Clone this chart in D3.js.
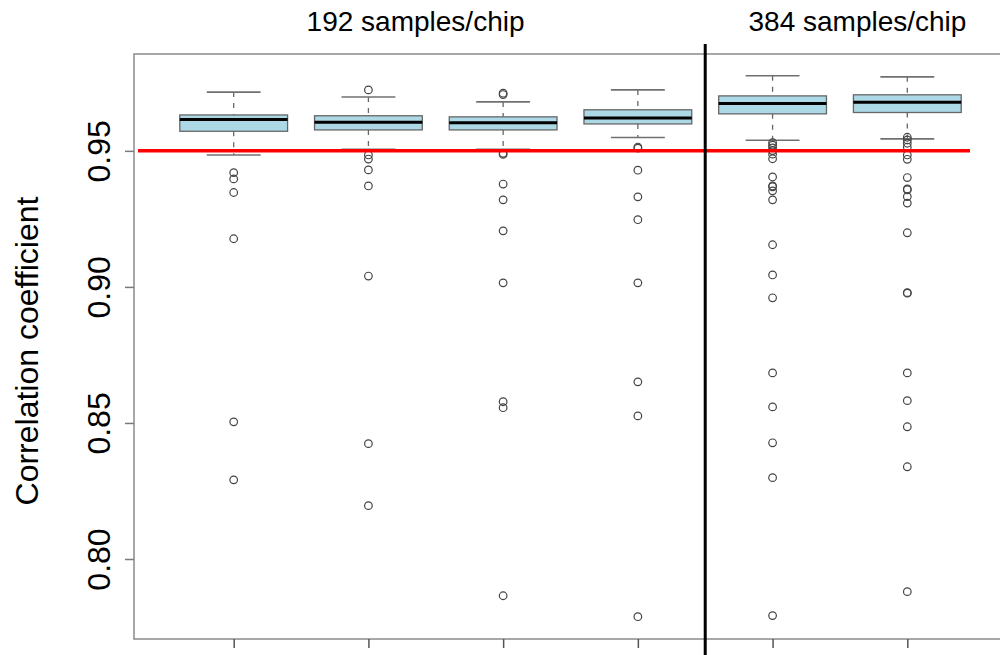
<!DOCTYPE html>
<html>
<head>
<meta charset="utf-8">
<script src="https://cdn.jsdelivr.net/npm/d3@7"></script>
<style>
  body { margin: 0; background: #fff; }
  text { font-family: "Liberation Sans", Arial, sans-serif; }
</style>
</head>
<body>
<div id="chart"></div>
<script>
// box statistics, one entry per group
var groups = [1, 2, 3, 4, 5, 6];
var whiskerHigh = [0.9716, 0.9698, 0.9680, 0.9724, 0.9776, 0.9772];
var q3 = [0.9632, 0.9629, 0.9625, 0.9651, 0.9702, 0.9706];
var medians = [0.9615, 0.9605, 0.9603, 0.9621, 0.9674, 0.9679];
var q1 = [0.9572, 0.9577, 0.9577, 0.9599, 0.9636, 0.9641];
var whiskerLow = [0.9485, 0.9506, 0.9506, 0.9549, 0.9539, 0.9544];
var outliers = [
    [0.9420, 0.9397, 0.9347, 0.9177, 0.8504, 0.8291],
    [0.9724, 0.9485, 0.9470, 0.9430, 0.9371, 0.9040, 0.8424, 0.8196],
    [0.9712, 0.9707, 0.9491, 0.9487, 0.9378, 0.9320, 0.9206, 0.9015, 0.8578, 0.8556, 0.7865],
    [0.9514, 0.9510, 0.9429, 0.9331, 0.9247, 0.9015, 0.8651, 0.8526, 0.7788],
    [0.9530, 0.9521, 0.9511, 0.9501, 0.9488, 0.9471, 0.9404, 0.9371, 0.9368, 0.9353, 0.9320,
     0.9155, 0.9044, 0.8960, 0.8684, 0.8559, 0.8427, 0.8299, 0.7792],
    [0.9550, 0.9540, 0.9528, 0.9514, 0.9485, 0.9469, 0.9402, 0.9360, 0.9357, 0.9332, 0.9308,
     0.9199, 0.8979, 0.8977, 0.8684, 0.8582, 0.8486, 0.8339, 0.7880]
];
var yTicks = [0.80, 0.85, 0.90, 0.95];
var threshold = 0.95;
var sections = [
    { label: '192 samples/chip', pos: 2.35 },
    { label: '384 samples/chip', pos: 5.63 }
];
var dividerPos = 4.5;

var width = 1000;
var height = 655;

var svg = d3.select('#chart').append('svg')
    .attr('width', width)
    .attr('height', height);

var x = d3.scaleLinear().domain([0.26, 6.74]).range([134, 1007]);
var y = d3.scaleLinear().domain([0.7706, 0.9856]).range([639, 54]);

var boxW = (x(1.4) - x(0.6));
var capW = boxW / 2;

// plot frame
svg.append('rect')
    .attr('x', x(0.26)).attr('y', y(0.9856))
    .attr('width', x(6.74) - x(0.26))
    .attr('height', y(0.7706) - y(0.9856))
    .style('fill', 'none')
    .style('stroke', '#8a8a8a')
    .attr('stroke-width', 1.5);

// y axis
var yAxis = d3.axisLeft(y)
    .tickValues(yTicks)
    .tickSize(9)
    .tickFormat(d3.format('.2f'));
var yg = svg.append('g')
    .attr('transform', 'translate(' + x(0.26) + ',0)')
    .call(yAxis);
yg.select('.domain').remove();
yg.selectAll('line').style('stroke', '#7a7a7a').attr('stroke-width', 1.5);
// labels sit rotated, baseline at x = 110 in page coords
yg.selectAll('text')
    .attr('x', 0).attr('y', 0).attr('dy', null)
    .attr('transform', 'translate(' + (110 - x(0.26)) + ',0) rotate(-90)')
    .style('text-anchor', 'middle')
    .style('font-size', '32px')
    .style('fill', '#000');

// x axis: ticks only
var xAxis = d3.axisBottom(x).tickValues(groups).tickSize(9).tickFormat('');
var xg = svg.append('g')
    .attr('transform', 'translate(0,' + y(0.7706) + ')')
    .call(xAxis);
xg.select('.domain').remove();
xg.selectAll('line').style('stroke', '#555').attr('stroke-width', 1.5);

// y title
svg.append('text')
    .attr('transform', 'translate(38,' + 351 + ') rotate(-90)')
    .style('text-anchor', 'middle')
    .style('font-size', '32px')
    .text('Correlation coefficient');

// section titles
svg.selectAll('.section')
    .data(sections)
    .enter().append('text')
    .attr('class', 'section')
    .attr('x', function (d) { return x(d.pos); })
    .attr('y', 31)
    .style('text-anchor', 'middle')
    .style('font-size', '28px')
    .text(function (d) { return d.label; });

// boxes
var g = svg.selectAll('.box')
    .data(groups)
    .enter().append('g')
    .attr('class', 'box');

// whisker stems (dashed)
g.append('line')
    .attr('x1', function (d) { return x(d); })
    .attr('x2', function (d) { return x(d); })
    .attr('y1', function (d, i) { return y(whiskerHigh[i]); })
    .attr('y2', function (d, i) { return y(q3[i]); })
    .style('stroke', '#666').attr('stroke-width', 1.3)
    .style('stroke-dasharray', '5,6');
g.append('line')
    .attr('x1', function (d) { return x(d); })
    .attr('x2', function (d) { return x(d); })
    .attr('y1', function (d, i) { return y(q1[i]); })
    .attr('y2', function (d, i) { return y(whiskerLow[i]); })
    .style('stroke', '#666').attr('stroke-width', 1.3)
    .style('stroke-dasharray', '5,6');

// whisker caps
[whiskerHigh, whiskerLow].forEach(function (arr) {
    g.append('line')
        .attr('x1', function (d) { return x(d) - capW / 2; })
        .attr('x2', function (d) { return x(d) + capW / 2; })
        .attr('y1', function (d, i) { return y(arr[i]); })
        .attr('y2', function (d, i) { return y(arr[i]); })
        .style('stroke', '#707070').attr('stroke-width', 1.6);
});

g.append('rect')
    .attr('x', function (d) { return x(d) - boxW / 2; })
    .attr('y', function (d, i) { return y(q3[i]); })
    .attr('width', boxW)
    .attr('height', function (d, i) { return y(q1[i]) - y(q3[i]); })
    .style('fill', '#add8e6')
    .style('stroke', '#666')
    .attr('stroke-width', 1.3);

g.append('line')
    .attr('x1', function (d) { return x(d) - boxW / 2; })
    .attr('x2', function (d) { return x(d) + boxW / 2; })
    .attr('y1', function (d, i) { return y(medians[i]); })
    .attr('y2', function (d, i) { return y(medians[i]); })
    .style('stroke', '#000').attr('stroke-width', 3);

// outliers
g.selectAll('.out')
    .data(function (d, i) { return outliers[i].map(function (v) { return { g: d, v: v }; }); })
    .enter().append('circle')
    .attr('class', 'out')
    .attr('cx', function (d) { return x(d.g); })
    .attr('cy', function (d) { return y(d.v); })
    .attr('r', 3.8)
    .style('fill', 'none')
    .style('stroke', '#444')
    .attr('stroke-width', 1.2);

// threshold line
svg.append('line')
    .attr('x1', 138).attr('x2', 970)
    .attr('y1', y(threshold)).attr('y2', y(threshold))
    .style('stroke', '#ff0000')
    .attr('stroke-width', 3.5);

// divider between chip sizes
svg.append('line')
    .attr('x1', x(dividerPos)).attr('x2', x(dividerPos))
    .attr('y1', 44).attr('y2', height)
    .style('stroke', '#000')
    .attr('stroke-width', 3);
</script>
</body>
</html>
